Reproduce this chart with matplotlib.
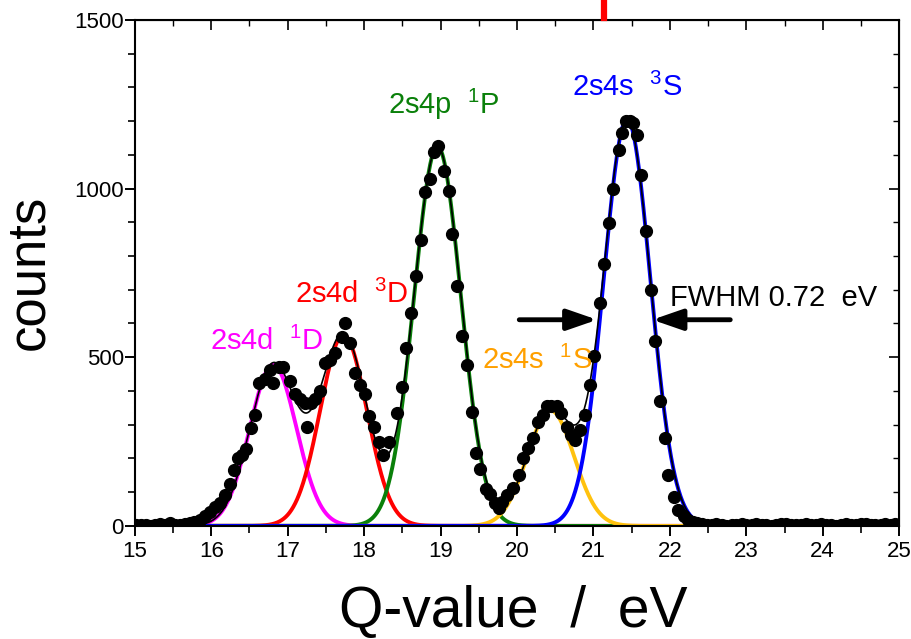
import numpy as np
import matplotlib
matplotlib.use("Agg")
import matplotlib.pyplot as plt
from matplotlib.lines import Line2D
from matplotlib.ticker import MultipleLocator

plt.rcParams['font.family'] = ['Liberation Sans', 'DejaVu Sans']
plt.rcParams['mathtext.fontset'] = 'custom'
plt.rcParams['mathtext.rm'] = 'Liberation Sans'
plt.rcParams['mathtext.it'] = 'Liberation Sans'
plt.rcParams['mathtext.bf'] = 'Liberation Sans'

# ---- measured data points (Q-value in eV, counts) ----
x_data = [15.02, 15.08, 15.14, 15.21, 15.27, 15.33, 15.40, 15.46, 15.53, 15.59, 15.66, 15.72,
          15.78, 15.85, 15.92, 15.99, 16.05, 16.11, 16.18, 16.24, 16.30, 16.35, 16.40, 16.46,
          16.52, 16.57, 16.63, 16.70, 16.77, 16.81, 16.88, 16.94, 17.03, 17.10, 17.16, 17.22,
          17.25, 17.30, 17.36, 17.42, 17.49, 17.56, 17.62, 17.71, 17.75, 17.81, 17.88, 17.95,
          18.01, 18.07, 18.13, 18.19, 18.25, 18.32, 18.43, 18.50, 18.55, 18.61, 18.68, 18.74,
          18.79, 18.86, 18.92, 18.97, 19.04, 19.11, 19.15, 19.22, 19.28, 19.35, 19.41, 19.47,
          19.52, 19.59, 19.65, 19.71, 19.76, 19.81, 19.87, 19.95, 20.02, 20.08, 20.15, 20.21,
          20.28, 20.34, 20.39, 20.45, 20.52, 20.58, 20.65, 20.71, 20.76, 20.82, 20.89, 20.96,
          21.01, 21.08, 21.14, 21.20, 21.26, 21.33, 21.37, 21.43, 21.48, 21.52, 21.57, 21.62,
          21.69, 21.75, 21.81, 21.87, 21.94, 21.98, 22.05, 22.11, 22.18, 22.24, 22.30, 22.36,
          22.42, 22.48, 22.55, 22.61, 22.68, 22.74, 22.81, 22.87, 22.94, 23.00, 23.07, 23.13,
          23.20, 23.26, 23.33, 23.39, 23.46, 23.52, 23.59, 23.65, 23.72, 23.78, 23.85, 23.91,
          23.98, 24.04, 24.11, 24.17, 24.24, 24.30, 24.37, 24.43, 24.50, 24.56, 24.63, 24.69,
          24.76, 24.82, 24.89, 24.95]
y_data = [3, 2, 4, 1, 3, 5, 2, 8, 4, 3, 6, 10,
          13, 18, 30, 40, 55, 68, 92, 125, 165, 200, 210, 228,
          290, 330, 423, 435, 463, 425, 472, 472, 430, 390, 376, 365,
          294, 364, 375, 400, 482, 492, 512, 561, 601, 542, 453, 418,
          390, 326, 292, 250, 210, 250, 336, 413, 526, 631, 741, 848,
          991, 1029, 1107, 1125, 1053, 993, 866, 712, 564, 476, 337, 217,
          168, 109, 95, 67, 52, 72, 92, 112, 151, 200, 230, 260,
          309, 329, 354, 356, 354, 334, 294, 270, 255, 285, 329, 418,
          504, 660, 777, 899, 998, 1115, 1164, 1199, 1200, 1194, 1159, 1039,
          873, 698, 549, 371, 260, 151, 87, 47, 28, 18, 13, 8,
          6, 4, 3, 5, 2, 1, 3, 4, 6, 2, 3, 5,
          4, 2, 1, 3, 5, 6, 3, 2, 4, 5, 3, 2,
          6, 4, 3, 1, 2, 5, 4, 3, 6, 5, 2, 3,
          4, 6, 3, 5]

# ---- Gaussian fit components ----
labels = ['2s4d  $^{1}$D', '2s4d  $^{3}$D', '2s4p  $^{1}$P', '2s4s  $^{1}$S', '2s4s  $^{3}$S']
centers = [16.81, 17.73, 18.96, 20.44, 21.44]
heights = [478, 566, 1125, 342, 1205]
fwhm = 0.72
comp_end = [22.4, 22.4, 21.4, 22.4, 22.4]
line_colors = ['#FF00FF', '#FF0000', '#0A800A', '#FFC20E', '#0000FF']
text_colors = ['#FF00FF', '#FF0000', '#0A800A', '#FFA000', '#0000FF']
label_x = [15.99, 17.09, 18.31, 19.54, 20.72]
label_y = [548, 685, 1248, 490, 1300]
draw_order = [0, 1, 3, 2, 4]

fig = plt.figure(figsize=(9.11, 6.39), dpi=100)
ax = fig.add_axes([0.148, 0.177, 0.839, 0.792])

sigma = fwhm / (2 * np.sqrt(2 * np.log(2)))
xg_total = np.linspace(15.0, 22.5, 1500)
total = np.zeros_like(xg_total)
for i in range(len(centers)):
    total += heights[i] * np.exp(-0.5 * ((xg_total - centers[i]) / sigma) ** 2)

for i in draw_order:
    xg = np.linspace(15.0, comp_end[i], 1500)
    yg = heights[i] * np.exp(-0.5 * ((xg - centers[i]) / sigma) ** 2)
    ax.plot(xg, yg, color=line_colors[i], lw=2.8, zorder=2 + i * 0.1, solid_capstyle='butt')

ax.plot(xg_total, total, color='black', lw=1.2, zorder=3)
ax.plot(x_data, y_data, 'o', color='black', ms=8.5, mec='black', zorder=4)

for i in range(len(labels)):
    ax.text(label_x[i], label_y[i], labels[i], color=text_colors[i], fontsize=21,
            ha='left', va='center', zorder=5)

ax.text(22.0, 676, 'FWHM 0.72  eV', color='black', fontsize=21, ha='left', va='center')

arrow_kw = dict(arrowstyle='-|>,head_length=1.3,head_width=0.45', color='black', lw=3.5,
                shrinkA=0, shrinkB=0, mutation_scale=14)
ax.annotate('', xy=(21.05, 611), xytext=(20.03, 611), arrowprops=arrow_kw)
ax.annotate('', xy=(21.77, 611), xytext=(22.79, 611), arrowprops=arrow_kw)

ax.set_xlim(15, 25)
ax.set_ylim(0, 1500)
ax.xaxis.set_major_locator(MultipleLocator(1))
ax.xaxis.set_minor_locator(MultipleLocator(0.5))
ax.yaxis.set_major_locator(MultipleLocator(500))
ax.yaxis.set_minor_locator(MultipleLocator(100))
ax.tick_params(axis='both', which='major', direction='out', length=7, width=1.4, labelsize=16)
ax.tick_params(axis='both', which='minor', direction='out', length=5, width=1.2)
ax.tick_params(axis='x', pad=4)
ax.tick_params(axis='y', pad=1)
for s in ax.spines.values():
    s.set_linewidth(1.5)

top = ax.secondary_xaxis('top')
top.xaxis.set_major_locator(MultipleLocator(1))
top.xaxis.set_minor_locator(MultipleLocator(0.5))
top.tick_params(which='major', direction='in', length=7, width=1.2, labeltop=False)
top.tick_params(which='minor', direction='in', length=4, width=1.0)
right = ax.secondary_yaxis('right')
right.yaxis.set_major_locator(MultipleLocator(500))
right.yaxis.set_minor_locator(MultipleLocator(100))
right.tick_params(which='major', direction='in', length=7, width=1.2, labelright=False)
right.tick_params(which='minor', direction='in', length=4, width=1.0)

fig.text(513 / 911, 1 - 627 / 639, 'Q-value  /  eV', fontsize=41, ha='center', va='baseline')
ax.set_ylabel('counts', fontsize=38, labelpad=14)

fig.add_artist(Line2D([604 / 911, 604 / 911], [1.0, 1 - 18 / 639], color='red', lw=4.5))

fig.savefig('out.png', dpi=100)
